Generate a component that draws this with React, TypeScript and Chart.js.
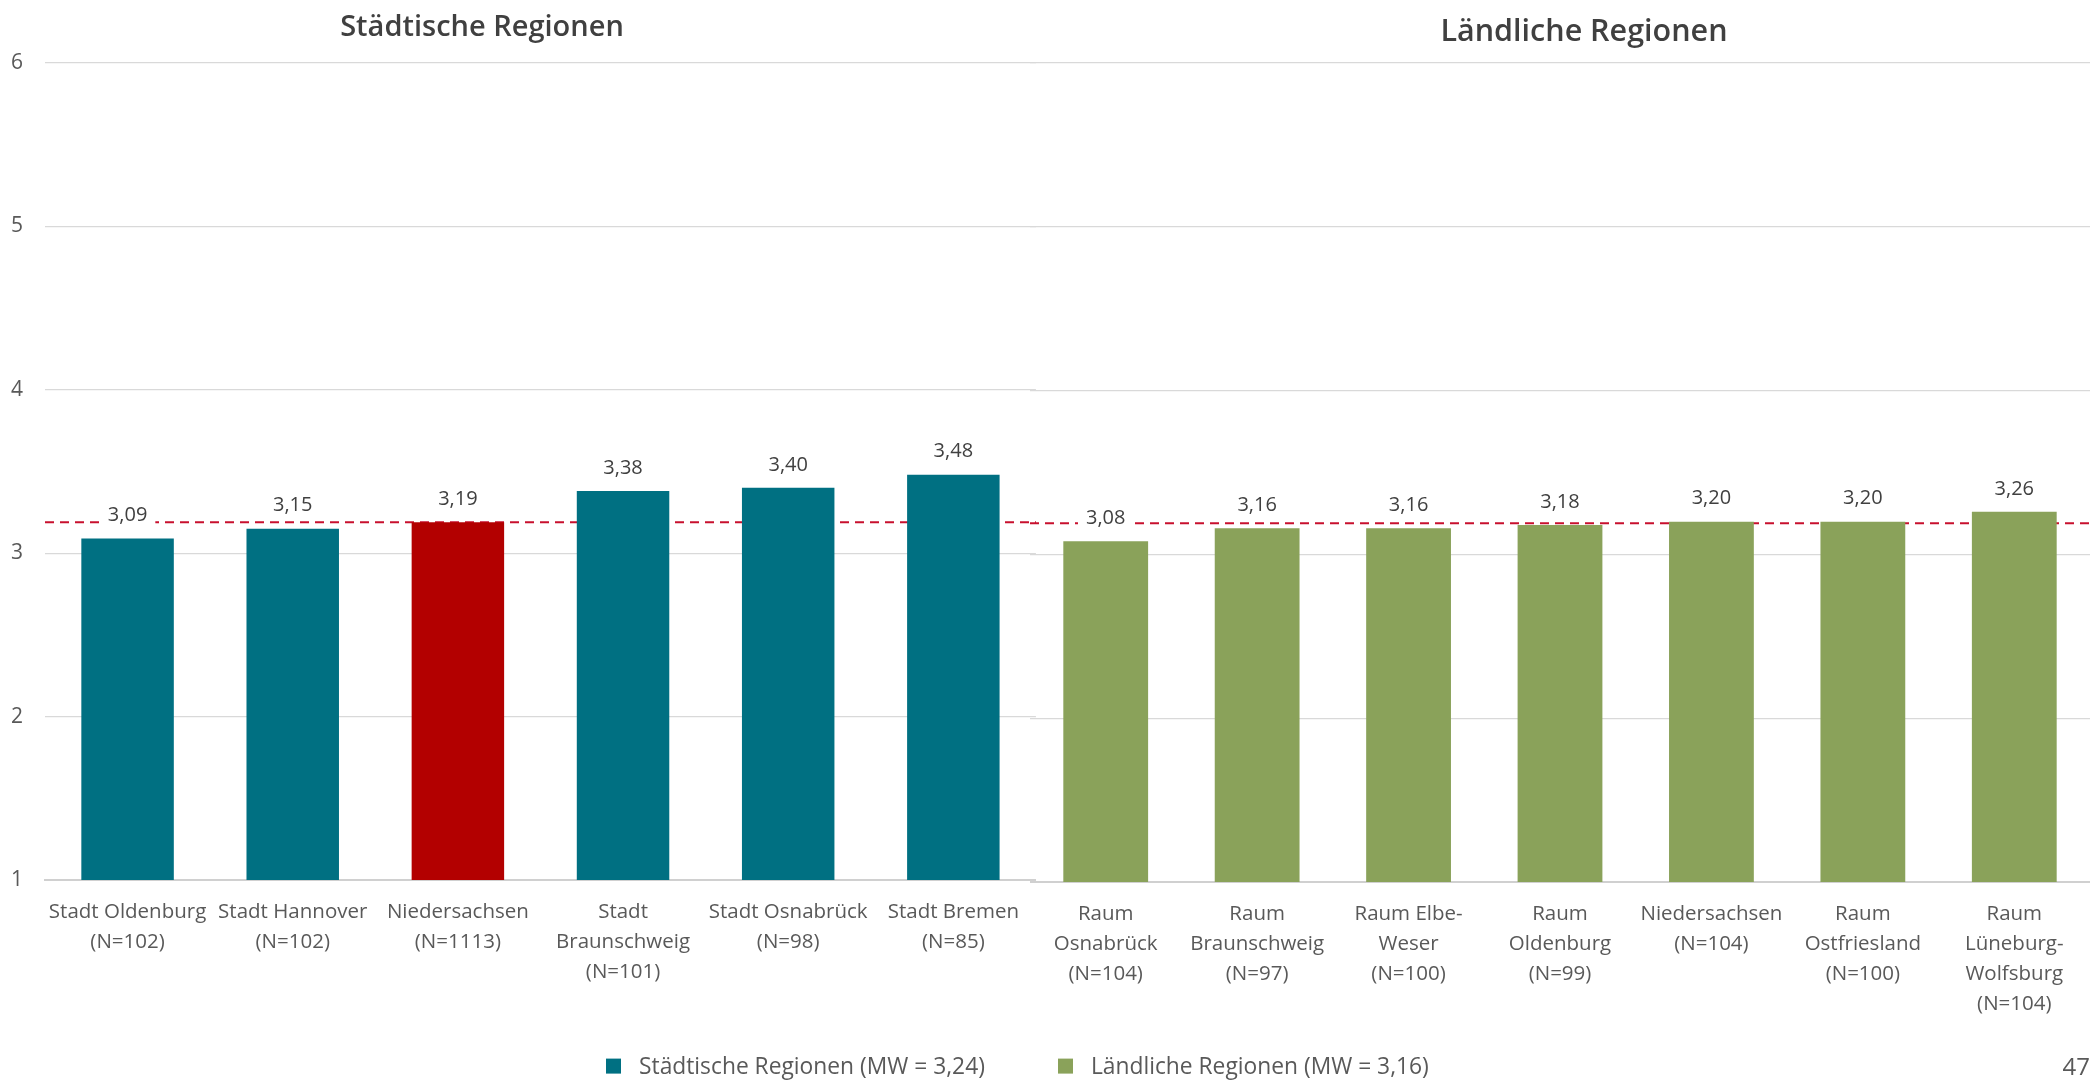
import React, { useEffect, useRef } from "react";
import { Chart, registerables } from "chart.js";

Chart.register(...registerables);

// ---------- data ----------
const urbanCategories: string[][] = [
  ["Stadt Oldenburg", "(N=102)"],
  ["Stadt Hannover", "(N=102)"],
  ["Niedersachsen", "(N=1113)"],
  ["Stadt", "Braunschweig", "(N=101)"],
  ["Stadt Osnabrück", "(N=98)"],
  ["Stadt Bremen", "(N=85)"],
];
const urbanValues: number[] = [3.09, 3.15, 3.19, 3.38, 3.4, 3.48];

const ruralCategories: string[][] = [
  ["Raum", "Osnabrück", "(N=104)"],
  ["Raum", "Braunschweig", "(N=97)"],
  ["Raum Elbe-", "Weser", "(N=100)"],
  ["Raum", "Oldenburg", "(N=99)"],
  ["Niedersachsen", "(N=104)"],
  ["Raum", "Ostfriesland", "(N=100)"],
  ["Raum", "Lüneburg-", "Wolfsburg", "(N=104)"],
];
const ruralValues: number[] = [3.08, 3.16, 3.16, 3.18, 3.2, 3.2, 3.26];

const referenceValue = 3.19; // Niedersachsen gesamt
const yTicks: number[] = [1, 2, 3, 4, 5, 6];

const urbanTitle = "Städtische Regionen";
const ruralTitle = "Ländliche Regionen";
const urbanLegend = "Städtische Regionen (MW = 3,24)";
const ruralLegend = "Ländliche Regionen (MW = 3,16)";
const pageNumber = "47";

// ---------- styles ----------
const FONT = "'Open Sans', 'Noto Sans', sans-serif";
const TEAL = "#007082";
const RED = "#B30000";
const GREEN = "#8AA25A";
const GRID = "#D9D9D9";
const AXIS = "#D0D0D0";
const TEXT = "#595959";
const LABEL = "#404040";

const fmt = (v: number) => v.toFixed(2).replace(".", ",");

const refLinePlugin = {
  id: "refLine",
  beforeDatasetsDraw(chart: any) {
    const ctx = chart.ctx;
    const y = chart.scales.y.getPixelForValue(referenceValue);
    const { left, right } = chart.chartArea;
    ctx.save();
    ctx.strokeStyle = "#C8102E";
    ctx.lineWidth = 2;
    ctx.setLineDash([9, 6]);
    ctx.beginPath();
    ctx.moveTo(left, y);
    ctx.lineTo(right, y);
    ctx.stroke();
    ctx.restore();
  },
};

const valueLabelPlugin = {
  id: "valueLabels",
  afterDatasetsDraw(chart: any) {
    const ctx = chart.ctx;
    const meta = chart.getDatasetMeta(0);
    const data = chart.data.datasets[0].data as number[];
    ctx.save();
    ctx.font = `20px ${FONT}`;
    ctx.textAlign = "center";
    ctx.textBaseline = "middle";
    meta.data.forEach((bar: any, i: number) => {
      const txt = fmt(data[i]);
      const w = ctx.measureText(txt).width;
      const cy = bar.y - 23;
      ctx.fillStyle = "#FFFFFF";
      ctx.fillRect(bar.x - w / 2 - 8, cy - 12, w + 16, 24);
      ctx.fillStyle = LABEL;
      ctx.fillText(txt, bar.x, cy);
    });
    ctx.restore();
  },
};

function makeConfig(
  categories: string[][],
  values: number[],
  showY: boolean,
  xHeight: number
): any {
  return {
    type: "bar",
    data: {
      labels: categories,
      datasets: [
        {
          data: values,
          backgroundColor: categories.map((c) =>
            c[0] === "Niedersachsen" && showY ? RED : showY ? TEAL : GREEN
          ),
          borderWidth: 0,
          categoryPercentage: 1,
          barPercentage: 0.56,
        },
      ],
    },
    options: {
      responsive: false,
      animation: false,
      devicePixelRatio: 1,
      layout: { padding: { top: 63, left: 0, right: 0, bottom: 0 } },
      plugins: {
        legend: { display: false },
        tooltip: { enabled: false },
        title: { display: false },
      },
      scales: {
        x: {
          grid: { display: false, drawTicks: false },
          border: { display: true, color: AXIS, width: 2 },
          ticks: {
            autoSkip: false,
            maxRotation: 0,
            minRotation: 0,
            padding: 17,
            color: TEXT,
            font: { family: FONT, size: 20.5, lineHeight: 30 / 20.5 },
          },
          afterFit: (s: any) => {
            s.height = xHeight;
          },
        },
        y: {
          min: yTicks[0],
          max: yTicks[yTicks.length - 1],
          afterBuildTicks: (s: any) => {
            s.ticks = yTicks.map((v) => ({ value: v }));
          },
          grid: { color: GRID, lineWidth: 1.3, drawTicks: false },
          border: { display: false },
          ticks: {
            display: showY,
            padding: 22,
            color: TEXT,
            font: { family: FONT, size: 21 },
          },
          afterFit: (s: any) => {
            s.width = showY ? 45 : 0;
          },
        },
      },
    },
    plugins: [refLinePlugin, valueLabelPlugin],
  };
}

function BarPanel(props: {
  categories: string[][];
  values: number[];
  showY: boolean;
  left: number;
  width: number;
  xHeight: number;
}) {
  const ref = useRef<HTMLCanvasElement | null>(null);
  useEffect(() => {
    if (!ref.current) return;
    const chart = new Chart(
      ref.current,
      makeConfig(props.categories, props.values, props.showY, props.xHeight)
    );
    return () => chart.destroy();
  }, []);
  return (
    <canvas
      ref={ref}
      width={props.width}
      height={1082}
      style={{
        position: "absolute",
        left: props.left,
        top: 0,
        width: props.width,
        height: 1082,
      }}
    />
  );
}

const titleStyle: React.CSSProperties = {
  position: "absolute",
  transform: "translate(-50%, -50%)",
  fontFamily: FONT,
  fontWeight: 600,
  color: LABEL,
  whiteSpace: "nowrap",
  lineHeight: 1,
};

const legendText: React.CSSProperties = {
  fontFamily: FONT,
  fontSize: 22.8,
  color: TEXT,
  whiteSpace: "nowrap",
  lineHeight: 1,
};

export default function App() {
  return (
    <div
      style={{
        position: "absolute",
        left: 0,
        top: 0,
        width: 2098,
        height: 1082,
        overflow: "hidden",
        background: "#FFFFFF",
      }}
    >
      <BarPanel
        categories={urbanCategories}
        values={urbanValues}
        showY={true}
        left={0}
        width={1036}
        xHeight={202}
      />
      <BarPanel
        categories={ruralCategories}
        values={ruralValues}
        showY={false}
        left={1030}
        width={1060}
        xHeight={200}
      />
      <div style={{ ...titleStyle, fontSize: 29, left: 482, top: 24 }}>{urbanTitle}</div>
      <div style={{ ...titleStyle, fontSize: 30.5, left: 1584, top: 29 }}>{ruralTitle}</div>
      <div
        style={{
          position: "absolute",
          left: 606,
          top: 1066,
          transform: "translateY(-50%)",
          display: "flex",
          alignItems: "center",
        }}
      >
        <span style={{ width: 15, height: 15, background: TEAL, display: "inline-block" }} />
        <span style={{ ...legendText, marginLeft: 18 }}>{urbanLegend}</span>
        <span
          style={{ width: 15, height: 15, background: GREEN, display: "inline-block", marginLeft: 73 }}
        />
        <span style={{ ...legendText, marginLeft: 18 }}>{ruralLegend}</span>
      </div>
      <div
        style={{
          position: "absolute",
          right: 8,
          top: 1066,
          transform: "translateY(-50%)",
          fontFamily: FONT,
          fontSize: 24,
          color: TEXT,
          lineHeight: 1,
        }}
      >
        {pageNumber}
      </div>
    </div>
  );
}
